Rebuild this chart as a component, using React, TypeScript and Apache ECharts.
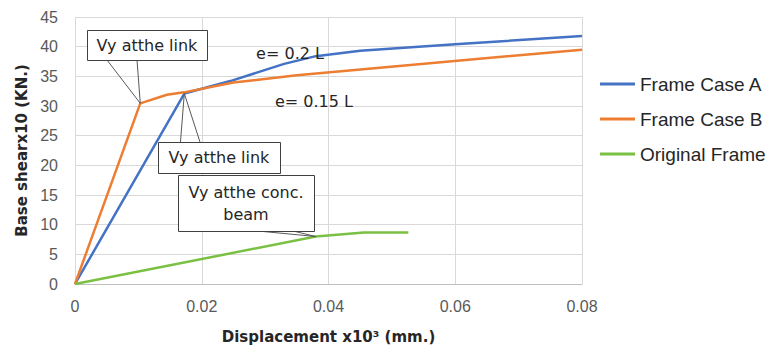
import React, { useEffect, useRef } from "react";
import * as echarts from "echarts";

// ---- data ----
const caseAX = [0, 0.01725, 0.0245, 0.033, 0.038, 0.045, 0.06, 0.08];
const caseAY = [0, 32.1, 34.2, 37.1, 38.4, 39.3, 40.4, 41.8];
const caseBX = [0, 0.0103, 0.0145, 0.0172, 0.025, 0.035, 0.08];
const caseBY = [0, 30.45, 31.9, 32.3, 33.95, 35.2, 39.5];
const origX = [0, 0.038, 0.0456, 0.0526];
const origY = [0, 8.0, 8.7, 8.7];

const seriesNames = ["Frame Case A", "Frame Case B", "Original Frame"];
const seriesColors = ["#4472C4", "#ED7D31", "#7AC143"];

const pairs = (xs: number[], ys: number[]) => xs.map((x, i) => [x, ys[i]]);

export default function App() {
  const ref = useRef<HTMLDivElement>(null);
  useEffect(() => {
    document.body.style.margin = "0";
    if (!ref.current) return;
    const chart = echarts.init(ref.current, undefined, { renderer: "svg" });
    const tickFont = "Liberation Sans";
    chart.setOption({
      animation: false,
      grid: { left: 75, right: 190, top: 17, bottom: 62, containLabel: false },
      xAxis: {
        type: "value",
        min: 0,
        max: 0.08,
        interval: 0.02,
        name: "Displacement x10\u00B3 (mm.)",
        nameLocation: "middle",
        nameGap: 45,
        nameTextStyle: { fontFamily: "DejaVu Sans", fontWeight: "bold", fontSize: 15, color: "#262626" },
        axisLine: { show: true, lineStyle: { color: "#bfbfbf", width: 1 } },
        axisTick: { show: false },
        axisLabel: {
          margin: 14,
          fontFamily: tickFont,
          fontSize: 16,
          color: "#595959",
          formatter: (v: number) => (v === 0 ? "0" : v.toFixed(2)),
        },
        splitLine: { show: true, lineStyle: { color: "#d9d9d9", width: 1 } },
      },
      yAxis: {
        type: "value",
        min: 0,
        max: 45,
        interval: 5,
        name: "Base shearx10 (KN.)",
        nameLocation: "middle",
        nameGap: 43,
        nameTextStyle: { fontFamily: "DejaVu Sans", fontWeight: "bold", fontSize: 15, color: "#262626" },
        axisLine: { show: false },
        axisTick: { show: false },
        axisLabel: { margin: 17, fontFamily: tickFont, fontSize: 16, color: "#595959" },
        splitLine: { show: true, lineStyle: { color: "#d9d9d9", width: 1 } },
      },
      legend: {
        orient: "vertical",
        left: 595,
        top: 69,
        icon: "rect",
        itemWidth: 35,
        itemHeight: 3,
        itemGap: 15,
        textStyle: { fontFamily: "Liberation Sans", fontSize: 19, color: "#262626", lineHeight: 20 },
        data: seriesNames,
      },
      series: [
        { name: seriesNames[0], data: pairs(caseAX, caseAY) },
        { name: seriesNames[1], data: pairs(caseBX, caseBY) },
        { name: seriesNames[2], data: pairs(origX, origY) },
      ].map((s, i) => ({
        ...s,
        type: "line",
        symbol: "none",
        color: seriesColors[i],
        lineStyle: { width: 2.5, color: seriesColors[i] },
      })),
    });

    const px = (x: number, y: number) =>
      chart.convertToPixel({ xAxisIndex: 0, yAxisIndex: 0 }, [x, y]) as number[];

    const callouts = [
      { box: [87, 30, 120, 30], lines: ["Vy atthe link"], legs: [107, 137], target: px(caseBX[1], caseBY[1]) },
      { box: [158, 142, 122, 31], lines: ["Vy atthe link"], legs: [178, 210], target: px(caseAX[1], caseAY[1]) },
      { box: [178, 175, 136, 56], lines: ["Vy atthe conc.", "beam"], legs: [258, 293], target: px(origX[1], origY[1]) },
    ];
    const annFont = "16px 'DejaVu Sans'";
    const graphics: any[] = [];
    callouts.forEach((c) => {
      const [bx, by, bw, bh] = c.box;
      const bottom = by + bh;
      c.legs.forEach((lx) => {
        graphics.push({
          type: "line",
          z: 100,
          shape: { x1: lx, y1: bottom, x2: c.target[0], y2: c.target[1] },
          style: { stroke: "#595959", lineWidth: 1 },
        });
      });
      graphics.push({
        type: "rect",
        z: 101,
        shape: { x: bx + 0.5, y: by + 0.5, width: bw, height: bh },
        style: { fill: "#ffffff", stroke: "#404040", lineWidth: 1 },
      });
      const lh = 22;
      const startY = by + bh / 2 - ((c.lines.length - 1) * lh) / 2;
      c.lines.forEach((t, i) => {
        graphics.push({
          type: "text",
          z: 102,
          style: {
            text: t,
            x: bx + bw / 2,
            y: startY + i * lh,
            textAlign: "center",
            textVerticalAlign: "middle",
            font: annFont,
            fill: "#262626",
          },
        });
      });
    });
    graphics.push(
      {
        type: "text",
        z: 102,
        style: { text: "e= 0.2 L", x: 290, y: 53, textAlign: "center", textVerticalAlign: "middle", font: annFont, fill: "#262626" },
      },
      {
        type: "text",
        z: 102,
        style: { text: "e= 0.15 L", x: 314, y: 101, textAlign: "center", textVerticalAlign: "middle", font: annFont, fill: "#262626" },
      }
    );
    chart.setOption({ graphic: graphics });

    return () => chart.dispose();
  }, []);
  return <div ref={ref} style={{ width: 772, height: 349 }} />;
}
